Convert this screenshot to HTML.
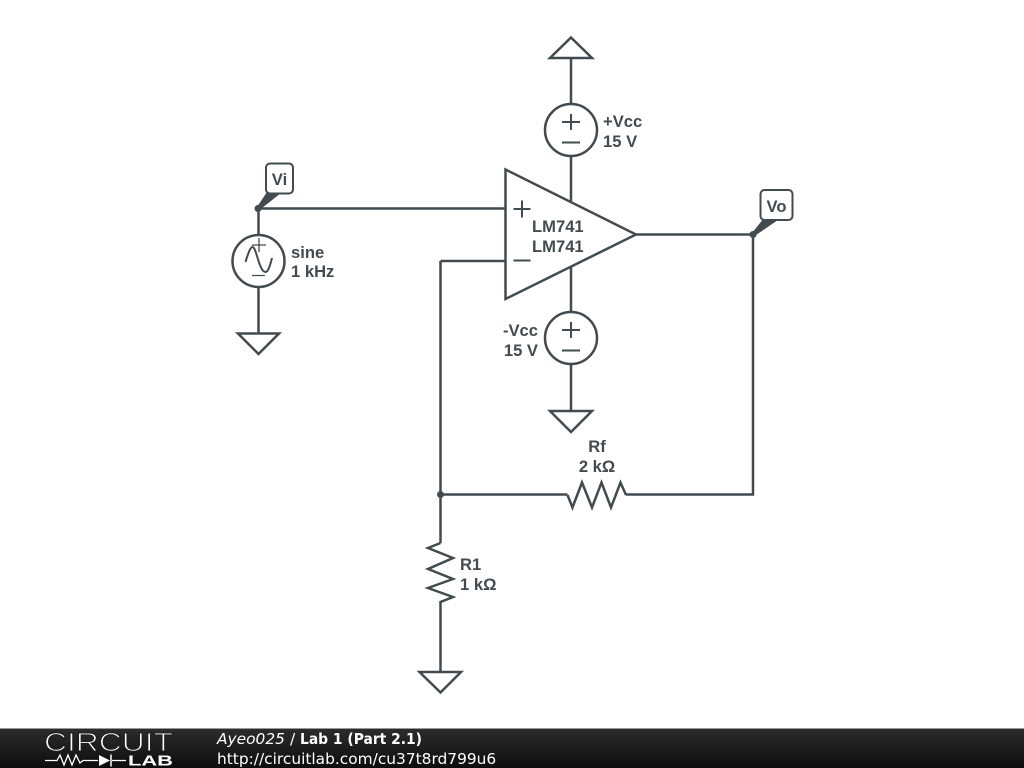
<!DOCTYPE html>
<html><head><meta charset="utf-8"><style>
html,body{margin:0;padding:0;background:#fff;width:1024px;height:768px;overflow:hidden}
svg{display:block}
.w{fill:none;stroke:#424b50;stroke-width:2.500;stroke-linejoin:miter}
.t{font-family:"Liberation Sans",sans-serif;font-weight:700;font-size:16.600px;fill:#424b50}
.f{font-family:"DejaVu Sans",sans-serif;font-size:15.400px;fill:#fff}
</style></head><body>
<svg width="1024" height="768" viewBox="0 0 1024 768" xmlns="http://www.w3.org/2000/svg">
<defs><linearGradient id="g" x1="0" y1="0" x2="0" y2="1"><stop offset="0" stop-color="#2c2c2c"/><stop offset="1" stop-color="#0d0d0d"/></linearGradient></defs>
<rect width="1024" height="768" fill="#fff"/>

<g class="w">
<!-- top supply -->
<path d="M571 37.5L592 58H550Z"/>
<path d="M571 58V104M571 156V201"/>
<circle cx="571" cy="130" r="26"/>
<path d="M571 114V130M562 122H580M562 142.500H580" stroke-width="2"/>
<!-- op amp -->
<path d="M505.500 169.500L636 234.500L505.500 299Z"/>
<path d="M513.500 209H530.500M522 200.500V217.500M513.500 260.500H530.500" stroke-width="2"/>
<path d="M258 208.500H505M440.500 261H505M636 234.500H753V494.500H626M440.500 261V543M440.500 494.500H567.500"/>
<!-- bottom supply -->
<path d="M571 267V312M571 364V411"/>
<circle cx="571" cy="338" r="26"/>
<path d="M571 322V338M562 330H580M562 350.500H580" stroke-width="2"/>
<path d="M550 411H592L571 432Z"/>
<!-- sine source -->
<path d="M258.500 208.500V235M258.500 287V333"/>
<circle cx="258.500" cy="261" r="26"/>
<path d="M259 238V252M252 245H266M252 275.500H265" stroke-width="1.300"/>
<path d="M245.500 262C248.500 252 250.500 247 252.500 247C256.500 247 259 272 265.500 272C268 272 270 266 272 258" stroke-width="2"/>
<path d="M238 333.500H279L258.500 354Z"/>
<!-- Rf -->
<path d="M567.500 495L572.500 507.500L582 482.500L592 507.500L601.500 482.500L611 507.500L620.500 482.500L626 495"/>
<!-- R1 -->
<path d="M440.500 543L428 548L453 558L428 569L453 579L428 588L453 597L440.500 602V672"/>
<path d="M419.500 672H461L440.500 692.500Z"/>
</g>

<!-- junctions -->
<circle cx="258" cy="208.500" r="3.500" fill="#424b50"/>
<circle cx="753" cy="234.500" r="3.500" fill="#424b50"/>
<circle cx="440.500" cy="494.500" r="3.500" fill="#424b50"/>

<!-- tags -->
<path d="M257 207L259.500 210L281 193L267 192Z" fill="#424b50"/>
<rect x="266" y="163.500" width="27" height="30" rx="4" fill="#fff" stroke="#424b50" stroke-width="2"/>
<text class="t" x="279.500" y="185" text-anchor="middle">Vi</text>
<path d="M752 233L754.500 236L778 220L764 218Z" fill="#424b50"/>
<rect x="760.500" y="190" width="32" height="30" rx="4" fill="#fff" stroke="#424b50" stroke-width="2"/>
<text class="t" x="776.500" y="212" text-anchor="middle">Vo</text>

<!-- labels -->
<text class="t" x="603" y="127">+Vcc</text>
<text class="t" x="603" y="147">15 V</text>
<text class="t" x="532" y="232">LM741</text>
<text class="t" x="532" y="252">LM741</text>
<text class="t" x="538" y="336" text-anchor="end">-Vcc</text>
<text class="t" x="538" y="356" text-anchor="end">15 V</text>
<text class="t" x="291" y="258">sine</text>
<text class="t" x="291" y="277">1 kHz</text>
<text class="t" x="597" y="452" text-anchor="middle">Rf</text>
<text class="t" x="597" y="472" text-anchor="middle">2 kΩ</text>
<text class="t" x="460" y="570">R1</text>
<text class="t" x="460" y="590">1 kΩ</text>

<!-- footer -->
<rect x="0" y="728" width="1024" height="1" fill="#999"/>
<rect x="0" y="729" width="1024" height="39" fill="url(#g)"/>
<text x="44" y="751" font-family="'Liberation Sans',sans-serif" font-size="26" fill="#fff" stroke="#1f1f1f" stroke-width="1.100" textLength="129" lengthAdjust="spacingAndGlyphs">CIRCUIT</text>
<path d="M45 760.500H57L60 755L64 765L68 755L72 765L76 755L80 763L83 760.500H98M112 760.500H126" fill="none" stroke="#fff" stroke-width="1.300"/>
<path d="M99 755L110 760.500L99 766Z" fill="#fff"/>
<path d="M111 754.500V766.500" stroke="#fff" stroke-width="1.500"/>
<text x="128" y="765.500" font-family="'Liberation Sans',sans-serif" font-weight="700" font-size="15" fill="#fff" textLength="45" lengthAdjust="spacingAndGlyphs">LAB</text>
<text class="f" x="217" y="744" font-style="italic">Ayeo025</text>
<text class="f" x="290" y="744">/</text>
<text class="f" x="300" y="744" font-weight="700" textLength="122" lengthAdjust="spacingAndGlyphs">Lab 1 (Part 2.1)</text>
<text class="f" x="217" y="764">http://circuitlab.com/cu37t8rd799u6</text>
</svg>
</body></html>
